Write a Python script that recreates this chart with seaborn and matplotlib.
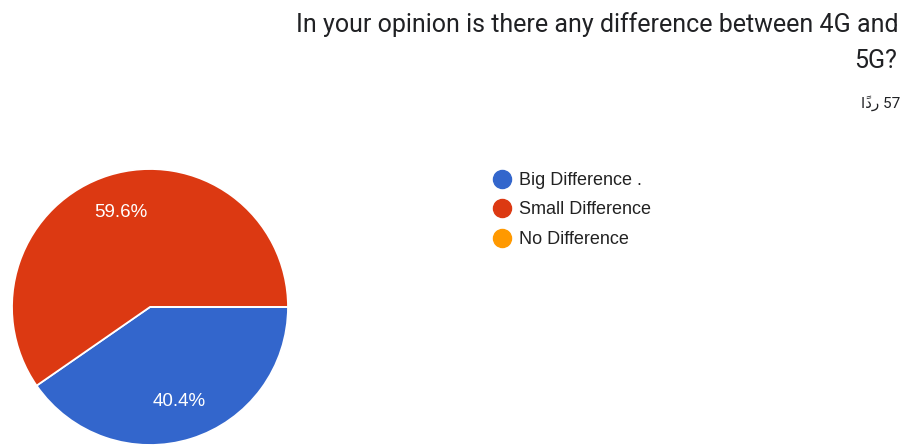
import matplotlib
matplotlib.use("Agg")
import matplotlib.pyplot as plt
from matplotlib.lines import Line2D
import seaborn as sns

# Survey answers and counts
categories = ["Big Difference .", "Small Difference", "No Difference"]
counts = [23, 34, 0]
colors = ["#3366CC", "#DC3912", "#FF9900"]

title_lines = ["In your opinion is there any difference between 4G and", "5G?"]
responses = 57
responses_word = "ردًا"

sns.set_theme(style="white")
plt.rcParams["font.family"] = ["Liberation Sans", "DejaVu Sans"]


def visual_rtl(word):
    """Lay out a short right-to-left word for matplotlib's left-to-right glyph placement."""
    return word[::-1]


W, H = 906, 445
fig = plt.figure(figsize=(W / 100, H / 100), dpi=100)
fig.patch.set_facecolor("white")

# Pie: square axes in pixel units, centre (150, 307), radius 138
cx, cy, r = 150, 307, 138
ax = fig.add_axes([(cx - r) / W, (H - cy - r) / H, 2 * r / W, 2 * r / H])
ax.pie(
    counts,
    colors=colors,
    startangle=0,
    counterclock=False,
    wedgeprops=dict(edgecolor="white", linewidth=1.3),
    autopct=lambda p: f"{p:.1f}%" if p > 0 else "",
    pctdistance=0.72,
    textprops=dict(color="white", fontsize=13.5),
)
ax.set_xlim(-1, 1)
ax.set_ylim(-1, 1)

# Title, right aligned
title_kw = dict(ha="right", va="center", fontsize=18, color="#202124",
                family=["Roboto", "DejaVu Sans"])
fig.text(899 / W, 1 - 25 / H, title_lines[0], **title_kw)
fig.text(897 / W, 1 - 61 / H, title_lines[1], **title_kw)

fig.text(900 / W, 1 - 103 / H, f"{visual_rtl(responses_word)} {responses}",
         ha="right", va="center", fontsize=11, color="#202124",
         family=["Roboto", "DejaVu Sans"])

# Legend with round markers
handles = [Line2D([0], [0], marker="o", linestyle="none", markersize=13,
                  markerfacecolor=c, markeredgecolor=c) for c in colors]
fig.legend(handles, categories, loc="upper left",
           bbox_to_anchor=(493 / W, 1 - 172 / H), frameon=False,
           fontsize=13, labelspacing=0.69, handlelength=1.0,
           handletextpad=0.45, borderpad=0, borderaxespad=0,
           labelcolor="#222222")

fig.savefig("out.png", dpi=100)
